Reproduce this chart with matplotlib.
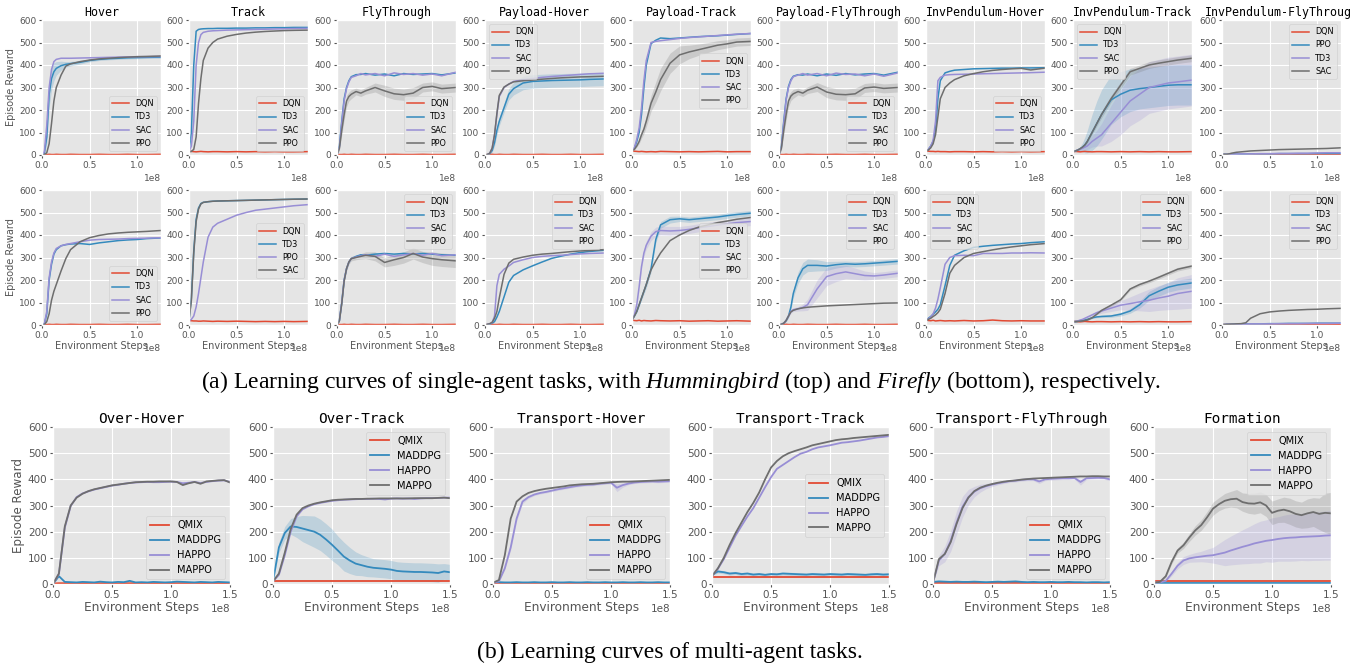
import matplotlib
matplotlib.use("Agg")
import matplotlib.pyplot as plt
from matplotlib.transforms import Bbox

plt.style.use("ggplot")
plt.rcParams["mathtext.fontset"] = "custom"
plt.rcParams["mathtext.rm"] = "Liberation Serif"
plt.rcParams["mathtext.it"] = "Liberation Serif:italic"

# ---------------- data (x in units of 1e8 environment steps) ----------------
X_SINGLE = [0, .025, .05, .075, .1, .125, .15, .2, .25, .3, .4, .5, .6, .7, .8, .9, 1.0, 1.1, 1.25]
X_MULTI = [0, .05, .1, .15, .2, .25, .3, .35, .4, .45, .5, .55, .6, .65, .7, .75, .8, .85,
           .9, .95, 1.0, 1.05, 1.1, 1.15, 1.2, 1.25, 1.3, 1.35, 1.4, 1.45, 1.5]

# --- Hummingbird (top row) ---
H_HOVER_DQN = [2, 2, 2, 3, 2, 2, 3, 2, 2, 3, 2, 2, 3, 2, 2, 3, 2, 2, 3]
H_HOVER_TD3 = [0, 10, 80, 270, 340, 370, 385, 397, 403, 406, 412, 420, 425, 428, 430, 432, 433, 434, 435]
H_HOVER_SAC = [0, 15, 130, 300, 380, 415, 425, 430, 430, 430, 431, 432, 433, 434, 435, 436, 437, 437, 438]
H_HOVER_PPO = [0, 2, 10, 50, 140, 240, 300, 355, 395, 405, 415, 422, 427, 430, 433, 435, 437, 438, 440]
H_HOVER_TD3_SD = [0, 5, 30, 60, 50, 40, 30, 20, 12, 10, 8, 6, 5, 5, 5, 5, 5, 5, 5]

H_TRACK_DQN = [15, 16, 15, 14, 15, 16, 15, 14, 15, 15, 14, 15, 14, 15, 14, 15, 14, 14, 15]
H_TRACK_TD3 = [15, 100, 400, 550, 558, 560, 561, 562, 562, 563, 563, 564, 564, 565, 565, 566, 566, 567, 567]
H_TRACK_SAC = [15, 40, 150, 400, 500, 535, 545, 550, 552, 553, 555, 556, 557, 558, 559, 560, 561, 562, 563]
H_TRACK_PPO = [15, 16, 25, 80, 230, 340, 420, 475, 500, 515, 528, 536, 542, 546, 549, 551, 553, 554, 555]

H_FLY_DQN = [2, 2, 2, 3, 2, 2, 3, 2, 2, 3, 2, 2, 3, 2, 2, 3, 2, 2, 3]
H_FLY_TD3 = [0, 40, 150, 250, 300, 330, 348, 357, 358, 362, 355, 360, 352, 362, 358, 360, 362, 356, 365]
H_FLY_SAC = [0, 35, 140, 240, 295, 325, 345, 352, 362, 356, 362, 352, 365, 358, 362, 355, 360, 352, 368]
H_FLY_PPO = [0, 30, 110, 180, 240, 260, 270, 282, 275, 285, 300, 285, 272, 268, 275, 300, 305, 295, 300]
H_FLY_PPO_SD = [0, 10, 20, 25, 25, 20, 20, 15, 15, 15, 20, 25, 25, 25, 25, 20, 20, 20, 20]

H_PHOVER_DQN = [2, 2, 2, 3, 2, 2, 3, 2, 2, 3, 2, 2, 3, 2, 2, 3, 2, 2, 3]
H_PHOVER_TD3 = [0, 2, 6, 20, 55, 110, 150, 210, 270, 295, 320, 327, 329, 331, 332, 333, 334, 336, 338]
H_PHOVER_SAC = [0, 2, 8, 30, 90, 180, 260, 300, 315, 327, 335, 340, 345, 349, 352, 355, 358, 361, 363]
H_PHOVER_PPO = [0, 2, 8, 30, 90, 185, 265, 302, 315, 325, 330, 333, 337, 340, 343, 345, 347, 348, 350]
H_PHOVER_TD3_SD = [0, 1, 3, 8, 15, 20, 20, 20, 25, 28, 30, 30, 30, 30, 30, 30, 30, 30, 30]

H_PTRACK_DQN = [18, 17, 16, 15, 16, 15, 14, 15, 14, 16, 15, 14, 15, 14, 15, 16, 14, 15, 15]
H_PTRACK_TD3 = [20, 30, 60, 100, 180, 300, 400, 495, 510, 520, 517, 520, 523, 526, 528, 530, 533, 536, 540]
H_PTRACK_SAC = [20, 32, 70, 120, 210, 330, 420, 500, 505, 508, 513, 518, 522, 525, 528, 531, 534, 537, 540]
H_PTRACK_PPO = [20, 25, 40, 60, 90, 115, 150, 230, 280, 335, 408, 445, 458, 468, 478, 488, 494, 502, 505]
H_PTRACK_PPO_SD = [0, 2, 5, 10, 15, 20, 25, 35, 45, 50, 45, 40, 30, 25, 22, 20, 18, 18, 18]

H_PFLY_DQN = [2, 2, 2, 3, 2, 2, 3, 2, 2, 3, 2, 2, 3, 2, 2, 3, 2, 2, 3]
H_PFLY_TD3 = [0, 40, 150, 250, 305, 335, 350, 357, 355, 360, 352, 360, 354, 362, 356, 360, 362, 355, 368]
H_PFLY_SAC = [0, 35, 140, 245, 300, 330, 348, 355, 362, 355, 362, 352, 364, 358, 360, 352, 360, 350, 365]
H_PFLY_PPO = [0, 30, 110, 180, 240, 262, 272, 282, 275, 288, 302, 280, 270, 268, 272, 298, 302, 296, 300]
H_PFLY_PPO_SD = [0, 10, 20, 25, 25, 20, 20, 15, 15, 15, 20, 25, 25, 25, 25, 20, 20, 20, 20]

H_IHOVER_DQN = [18, 17, 16, 16, 15, 16, 15, 15, 14, 15, 15, 14, 15, 14, 15, 14, 15, 14, 15]
H_IHOVER_TD3 = [18, 25, 40, 60, 110, 250, 330, 365, 372, 377, 380, 383, 384, 385, 386, 386, 387, 387, 388]
H_IHOVER_SAC = [18, 25, 40, 65, 150, 330, 345, 355, 357, 358, 359, 360, 361, 362, 363, 364, 365, 366, 368]
H_IHOVER_PPO = [18, 22, 32, 50, 90, 170, 250, 300, 320, 335, 352, 362, 370, 376, 380, 383, 385, 378, 386]

H_ITRACK_DQN = [15, 16, 15, 14, 15, 16, 15, 14, 15, 15, 14, 15, 14, 15, 14, 15, 14, 14, 15]
H_ITRACK_TD3 = [15, 18, 22, 28, 35, 45, 60, 100, 140, 180, 245, 270, 288, 295, 300, 305, 310, 312, 312]
H_ITRACK_SAC = [15, 18, 22, 26, 30, 35, 40, 60, 75, 90, 140, 190, 240, 270, 300, 310, 320, 325, 333]
H_ITRACK_PPO = [15, 18, 22, 28, 35, 45, 60, 100, 140, 180, 250, 310, 370, 385, 400, 408, 415, 422, 430]
H_ITRACK_TD3_SD = [2, 3, 5, 10, 20, 35, 50, 80, 100, 110, 110, 100, 95, 90, 90, 90, 90, 90, 90]
H_ITRACK_SAC_SD = [2, 3, 4, 6, 8, 12, 15, 25, 35, 50, 80, 100, 110, 115, 115, 115, 115, 115, 115]
H_ITRACK_PPO_SD = [1, 2, 3, 4, 5, 6, 8, 10, 12, 15, 15, 15, 15, 15, 15, 15, 15, 15, 15]

H_IFLY_DQN = [2, 2, 2, 3, 2, 2, 3, 2, 2, 3, 2, 2, 3, 2, 2, 3, 2, 2, 3]
H_IFLY_PPO = [3, 3, 3, 3, 3, 4, 4, 4, 4, 5, 5, 5, 6, 6, 6, 6, 7, 7, 7]
H_IFLY_TD3 = [3, 3, 3, 3, 4, 4, 4, 5, 5, 5, 6, 6, 7, 7, 8, 8, 9, 10, 10]
H_IFLY_SAC = [3, 3, 3, 5, 8, 10, 12, 14, 16, 18, 20, 22, 24, 25, 26, 27, 28, 29, 32]

# --- Firefly (second row) ---
F_HOVER_DQN = [2, 2, 2, 3, 2, 2, 3, 2, 2, 3, 2, 2, 3, 2, 2, 3, 2, 2, 3]
F_HOVER_TD3 = [0, 5, 50, 200, 270, 315, 335, 352, 357, 360, 362, 358, 365, 370, 375, 378, 380, 384, 387]
F_HOVER_SAC = [0, 5, 60, 210, 280, 320, 340, 352, 358, 362, 370, 377, 380, 381, 382, 384, 385, 386, 388]
F_HOVER_PPO = [0, 2, 15, 50, 110, 150, 180, 240, 295, 335, 370, 388, 398, 405, 409, 412, 414, 416, 420]

F_TRACK_DQN = [20, 19, 18, 18, 17, 17, 18, 17, 16, 17, 16, 17, 16, 15, 16, 15, 16, 15, 16]
F_TRACK_TD3 = [20, 120, 330, 470, 520, 540, 545, 548, 550, 551, 552, 553, 554, 555, 556, 557, 558, 559, 560]
F_TRACK_PPO = [20, 25, 40, 80, 140, 210, 280, 390, 435, 452, 470, 488, 500, 510, 515, 520, 525, 530, 535]
F_TRACK_SAC = [20, 110, 320, 460, 515, 538, 545, 548, 550, 551, 552, 553, 554, 555, 556, 557, 558, 559, 560]

F_FLY_DQN = [2, 2, 2, 3, 2, 2, 3, 2, 2, 3, 2, 2, 3, 2, 2, 3, 2, 2, 3]
F_FLY_TD3 = [0, 20, 100, 200, 250, 280, 295, 305, 312, 310, 315, 318, 315, 318, 316, 318, 315, 312, 310]
F_FLY_SAC = [0, 20, 100, 200, 250, 280, 295, 302, 308, 312, 305, 315, 305, 312, 318, 310, 318, 308, 312]
F_FLY_PPO = [0, 18, 95, 195, 250, 280, 295, 300, 305, 310, 305, 278, 290, 300, 318, 302, 295, 290, 285]
F_FLY_PPO_SD = [0, 3, 8, 10, 10, 10, 10, 10, 12, 15, 20, 20, 25, 25, 25, 25, 30, 30, 30]

F_PHOVER_DQN = [2, 2, 2, 3, 2, 2, 3, 2, 2, 3, 2, 2, 3, 2, 2, 3, 2, 2, 3]
F_PHOVER_TD3 = [0, 2, 4, 8, 15, 35, 60, 125, 190, 220, 245, 263, 280, 296, 306, 315, 322, 327, 332]
F_PHOVER_SAC = [0, 3, 6, 10, 40, 175, 225, 248, 262, 278, 290, 300, 305, 308, 310, 313, 316, 318, 320]
F_PHOVER_PPO = [0, 3, 6, 12, 30, 60, 120, 225, 275, 292, 302, 310, 315, 318, 322, 326, 329, 331, 335]

F_PTRACK_DQN = [22, 20, 19, 21, 18, 20, 19, 18, 20, 19, 18, 19, 17, 18, 19, 17, 18, 19, 17]
F_PTRACK_TD3 = [22, 40, 60, 90, 120, 150, 180, 250, 380, 445, 468, 472, 468, 472, 476, 480, 486, 491, 497]
F_PTRACK_SAC = [22, 45, 90, 170, 260, 320, 355, 395, 415, 420, 418, 420, 425, 432, 438, 444, 450, 455, 460]
F_PTRACK_PPO = [22, 40, 60, 90, 120, 150, 180, 245, 285, 320, 375, 400, 420, 435, 445, 455, 462, 470, 478]
F_PTRACK_TD3_SD = [2, 3, 5, 8, 10, 12, 15, 15, 15, 15, 15, 12, 12, 12, 12, 12, 12, 12, 12]
F_PTRACK_SAC_SD = [2, 3, 5, 8, 10, 15, 18, 20, 20, 20, 20, 18, 18, 18, 18, 18, 18, 18, 18]

F_PFLY_DQN = [2, 2, 2, 3, 2, 2, 3, 2, 2, 3, 2, 2, 3, 2, 2, 3, 2, 2, 3]
F_PFLY_TD3 = [0, 3, 8, 20, 40, 80, 140, 210, 250, 265, 265, 262, 268, 272, 270, 272, 275, 278, 283]
F_PFLY_SAC = [0, 3, 8, 20, 40, 60, 68, 72, 78, 90, 160, 215, 228, 236, 228, 220, 218, 222, 230]
F_PFLY_PPO = [0, 3, 8, 20, 40, 58, 65, 72, 76, 79, 82, 85, 87, 89, 91, 93, 95, 97, 98]
F_PFLY_TD3_SD = [0, 1, 3, 5, 8, 12, 18, 25, 28, 28, 25, 20, 15, 12, 12, 12, 12, 12, 12]
F_PFLY_SAC_SD = [0, 1, 2, 4, 6, 8, 8, 10, 15, 25, 40, 40, 35, 30, 25, 20, 15, 15, 15]

F_IHOVER_DQN = [22, 20, 19, 21, 18, 19, 20, 18, 19, 18, 20, 18, 19, 22, 19, 18, 19, 18, 18]
F_IHOVER_TD3 = [20, 30, 38, 48, 58, 70, 90, 175, 265, 310, 330, 345, 350, 354, 357, 360, 362, 366, 370]
F_IHOVER_SAC = [20, 28, 35, 50, 75, 115, 165, 270, 300, 308, 310, 308, 318, 318, 318, 320, 320, 321, 320]
F_IHOVER_PPO = [20, 25, 30, 38, 45, 55, 70, 140, 230, 265, 300, 318, 326, 334, 341, 347, 352, 357, 362]

F_ITRACK_DQN = [15, 16, 15, 14, 15, 16, 15, 14, 15, 15, 14, 15, 14, 15, 14, 15, 14, 14, 15]
F_ITRACK_TD3 = [15, 15, 16, 18, 20, 22, 25, 32, 36, 38, 40, 48, 62, 90, 130, 150, 168, 178, 187]
F_ITRACK_SAC = [15, 16, 18, 22, 25, 30, 35, 45, 55, 62, 75, 88, 95, 103, 110, 120, 128, 140, 150]
F_ITRACK_PPO = [15, 15, 16, 17, 18, 20, 22, 32, 48, 65, 88, 112, 160, 180, 195, 212, 230, 248, 262]
F_ITRACK_TD3_SD = [1, 1, 1, 2, 2, 2, 3, 3, 4, 5, 6, 8, 10, 15, 20, 22, 22, 22, 22]
F_ITRACK_SAC_SD = [1, 1, 2, 2, 3, 3, 4, 5, 8, 10, 15, 20, 30, 40, 50, 55, 60, 70, 75]
F_ITRACK_PPO_SD = [1, 1, 1, 1, 2, 2, 2, 3, 3, 4, 5, 6, 6, 7, 7, 8, 8, 8, 8]

F_IFLY_DQN = [2, 2, 2, 3, 2, 2, 3, 2, 2, 3, 2, 2, 3, 2, 2, 3, 2, 2, 3]
F_IFLY_TD3 = [2, 2, 3, 3, 3, 4, 4, 4, 5, 5, 5, 6, 6, 7, 7, 7, 8, 8, 8]
F_IFLY_SAC = [2, 2, 3, 3, 3, 3, 4, 4, 4, 5, 5, 5, 6, 6, 6, 7, 7, 7, 8]
F_IFLY_PPO = [2, 2, 3, 3, 4, 4, 5, 6, 10, 30, 50, 58, 62, 65, 67, 69, 70, 72, 74]

# --- multi-agent ---
OH_QMIX = [2, 3, 3, 3, 2, 3, 3, 2, 3, 3, 3, 2, 3, 3, 3, 2, 3, 3, 3, 2, 3, 3, 3, 2, 3, 3, 3, 2, 3, 3, 3]
OH_MADDPG = [0, 30, 8, 7, 6, 8, 7, 6, 9, 7, 6, 8, 7, 12, 6, 7, 6, 8, 7, 6, 7, 9, 8, 7, 6, 8, 7, 6, 8, 7, 6]
OH_HAPPO = [0, 38, 215, 298, 332, 346, 354, 361, 366, 371, 376, 379, 383, 386, 388, 389, 390, 389, 389, 390,
            391, 390, 385, 387, 390, 386, 390, 393, 395, 396, 390]
OH_MAPPO = [0, 40, 220, 300, 330, 345, 355, 362, 367, 372, 377, 380, 383, 386, 389, 390, 391, 391, 392, 392,
            392, 390, 378, 385, 390, 383, 392, 394, 396, 397, 388]

OT_QMIX = [12, 12, 12, 12, 12, 12, 12, 12, 12, 12, 12, 12, 12, 12, 12, 12, 12, 12, 12, 12, 12, 12, 12, 12,
           12, 12, 12, 12, 12, 12, 12]
OT_MADDPG = [10, 140, 195, 220, 218, 212, 206, 200, 188, 170, 150, 128, 105, 90, 78, 72, 66, 62, 60, 58,
             55, 50, 48, 47, 46, 46, 45, 44, 42, 48, 45]
OT_HAPPO = [10, 35, 110, 200, 258, 285, 297, 305, 310, 314, 318, 320, 322, 323, 324, 325, 325, 326, 325, 323,
            326, 327, 326, 327, 325, 327, 328, 328, 329, 330, 330]
OT_MAPPO = [10, 40, 120, 210, 265, 290, 300, 307, 312, 316, 320, 322, 323, 324, 325, 325, 326, 326, 327, 327,
            327, 327, 327, 327, 328, 328, 328, 328, 329, 330, 328]
OT_MADDPG_SD = [0, 20, 25, 30, 40, 50, 55, 60, 60, 60, 60, 55, 55, 50, 45, 40, 38, 35, 35, 35, 35, 35, 35, 35,
                35, 35, 35, 35, 35, 30, 30]

TH_QMIX = [5, 5, 5, 5, 5, 5, 5, 5, 5, 5, 5, 5, 5, 5, 5, 5, 5, 5, 5, 5, 5, 5, 5, 5, 5, 5, 5, 5, 5, 5, 5]
TH_MADDPG = [6, 7, 6, 6, 7, 6, 6, 7, 6, 6, 7, 6, 6, 7, 6, 6, 7, 6, 6, 7, 6, 6, 7, 6, 6, 7, 6, 6, 7, 6, 6]
TH_HAPPO = [5, 10, 60, 140, 250, 315, 332, 342, 348, 352, 357, 362, 366, 370, 374, 377, 379, 380, 383, 385,
            387, 368, 378, 384, 388, 390, 391, 392, 391, 392, 393]
TH_MAPPO = [5, 15, 110, 250, 315, 335, 348, 355, 360, 364, 367, 370, 373, 377, 379, 381, 382, 383, 385, 387,
            389, 390, 391, 391, 392, 393, 394, 395, 396, 397, 398]
TH_HAPPO_SD = [0, 2, 5, 10, 10, 8, 5, 4, 4, 4, 4, 4, 4, 4, 4, 4, 4, 4, 4, 4, 4, 15, 8, 4, 4, 4, 4, 4, 4, 4, 4]

TT_QMIX = [28, 28, 28, 28, 28, 28, 28, 28, 28, 28, 28, 28, 28, 28, 28, 28, 28, 28, 28, 28, 28, 28, 28, 28,
           28, 28, 28, 28, 28, 28, 28]
TT_MADDPG = [35, 48, 45, 40, 42, 38, 40, 36, 38, 35, 38, 37, 40, 39, 38, 37, 36, 38, 37, 36, 38, 37, 36, 38,
             37, 36, 35, 37, 38, 36, 37]
TT_HAPPO = [30, 58, 95, 140, 185, 222, 258, 290, 330, 370, 408, 440, 455, 470, 485, 498, 505, 515, 522, 526,
            530, 535, 540, 542, 545, 548, 552, 556, 560, 562, 565]
TT_MAPPO = [30, 60, 100, 150, 195, 235, 275, 310, 350, 400, 445, 470, 488, 500, 508, 515, 522, 530, 535, 540,
            545, 550, 553, 555, 558, 560, 562, 564, 566, 568, 570]
TT_MADDPG_SD = [3, 6, 6, 6, 6, 6, 6, 6, 6, 6, 6, 6, 6, 6, 6, 6, 6, 6, 6, 6, 6, 6, 6, 6, 6, 6, 6, 6, 6, 6, 6]

TF_QMIX = [5, 5, 5, 5, 5, 5, 5, 5, 5, 5, 5, 5, 5, 5, 5, 5, 5, 5, 5, 5, 5, 5, 5, 5, 5, 5, 5, 5, 5, 5, 5]
TF_MADDPG = [8, 10, 9, 8, 9, 8, 8, 9, 8, 7, 8, 9, 8, 9, 10, 8, 7, 8, 7, 7, 8, 7, 7, 8, 7, 7, 6, 7, 7, 6, 7]
TF_HAPPO = [5, 90, 115, 165, 235, 295, 332, 353, 366, 374, 380, 385, 389, 393, 395, 398, 400, 400, 392, 400,
            402, 403, 404, 404, 405, 390, 404, 405, 406, 405, 400]
TF_MAPPO = [5, 95, 115, 160, 230, 290, 330, 355, 368, 376, 382, 387, 391, 394, 396, 399, 401, 403, 404, 405,
            406, 407, 408, 409, 410, 411, 411, 412, 412, 411, 411]
TF_HAPPO_SD = [0, 20, 30, 40, 45, 40, 30, 20, 15, 10, 8, 6, 5, 5, 5, 5, 5, 5, 8, 5, 5, 5, 5, 5, 5, 12, 5, 5,
               5, 5, 5]

FM_QMIX = [13, 13, 13, 13, 13, 13, 13, 13, 13, 13, 13, 13, 13, 13, 13, 13, 13, 13, 13, 13, 13, 13, 13, 13,
           13, 13, 13, 13, 13, 13, 13]
FM_MADDPG = [5, 5, 5, 5, 5, 5, 5, 5, 5, 5, 5, 5, 5, 5, 5, 5, 5, 5, 5, 5, 5, 5, 5, 5, 5, 5, 5, 5, 5, 5, 5]
FM_HAPPO = [5, 6, 12, 40, 70, 90, 98, 102, 105, 108, 110, 115, 120, 128, 135, 142, 148, 155, 160, 165,
            168, 172, 175, 177, 178, 180, 181, 182, 183, 185, 186]
FM_MAPPO = [5, 8, 30, 85, 128, 148, 178, 205, 225, 255, 288, 305, 318, 324, 326, 313, 308, 307, 312, 300,
            272, 280, 284, 278, 268, 263, 270, 275, 268, 272, 270]
FM_HAPPO_SD = [0, 1, 3, 8, 12, 15, 15, 18, 20, 25, 30, 40, 50, 55, 60, 65, 70, 75, 80, 80, 85, 85, 88, 90,
               90, 90, 92, 92, 93, 94, 95]
FM_MAPPO_SD = [0, 2, 5, 8, 10, 12, 15, 18, 20, 22, 25, 25, 28, 30, 35, 35, 38, 40, 40, 42, 45, 45, 48, 50,
               50, 50, 55, 55, 60, 75, 80]

# ---------------- panel definitions ----------------
STD4 = ["DQN", "TD3", "SAC", "PPO"]
TOP_ROW = [
    ("Hover", [H_HOVER_DQN, H_HOVER_TD3, H_HOVER_SAC, H_HOVER_PPO], STD4, {1: H_HOVER_TD3_SD}, "lower right"),
    ("Track", [H_TRACK_DQN, H_TRACK_TD3, H_TRACK_SAC, H_TRACK_PPO], STD4, {}, "lower right"),
    ("FlyThrough", [H_FLY_DQN, H_FLY_TD3, H_FLY_SAC, H_FLY_PPO], STD4, {3: H_FLY_PPO_SD}, "lower right"),
    ("Payload-Hover", [H_PHOVER_DQN, H_PHOVER_TD3, H_PHOVER_SAC, H_PHOVER_PPO], STD4, {1: H_PHOVER_TD3_SD}, "upper left"),
    ("Payload-Track", [H_PTRACK_DQN, H_PTRACK_TD3, H_PTRACK_SAC, H_PTRACK_PPO], STD4, {3: H_PTRACK_PPO_SD}, "center right"),
    ("Payload-FlyThrough", [H_PFLY_DQN, H_PFLY_TD3, H_PFLY_SAC, H_PFLY_PPO], STD4, {3: H_PFLY_PPO_SD}, "lower right"),
    ("InvPendulum-Hover", [H_IHOVER_DQN, H_IHOVER_TD3, H_IHOVER_SAC, H_IHOVER_PPO], STD4, {}, "lower right"),
    ("InvPendulum-Track", [H_ITRACK_DQN, H_ITRACK_TD3, H_ITRACK_SAC, H_ITRACK_PPO], STD4,
     {1: H_ITRACK_TD3_SD, 2: H_ITRACK_SAC_SD, 3: H_ITRACK_PPO_SD}, "upper left"),
    ("InvPendulum-FlyThrough", [H_IFLY_DQN, H_IFLY_PPO, H_IFLY_TD3, H_IFLY_SAC], ["DQN", "PPO", "TD3", "SAC"], {}, "upper right"),
]
BOTTOM_ROW = [
    ([F_HOVER_DQN, F_HOVER_TD3, F_HOVER_SAC, F_HOVER_PPO], STD4, {}, "lower right"),
    ([F_TRACK_DQN, F_TRACK_TD3, F_TRACK_PPO, F_TRACK_SAC], ["DQN", "TD3", "PPO", "SAC"], {}, "center right"),
    ([F_FLY_DQN, F_FLY_TD3, F_FLY_SAC, F_FLY_PPO], STD4, {3: F_FLY_PPO_SD}, "upper right"),
    ([F_PHOVER_DQN, F_PHOVER_TD3, F_PHOVER_SAC, F_PHOVER_PPO], STD4, {}, "upper right"),
    ([F_PTRACK_DQN, F_PTRACK_TD3, F_PTRACK_SAC, F_PTRACK_PPO], STD4, {1: F_PTRACK_TD3_SD, 2: F_PTRACK_SAC_SD}, "center right"),
    ([F_PFLY_DQN, F_PFLY_TD3, F_PFLY_SAC, F_PFLY_PPO], STD4, {1: F_PFLY_TD3_SD, 2: F_PFLY_SAC_SD}, "upper right"),
    ([F_IHOVER_DQN, F_IHOVER_TD3, F_IHOVER_SAC, F_IHOVER_PPO], STD4, {}, "upper left"),
    ([F_ITRACK_DQN, F_ITRACK_TD3, F_ITRACK_SAC, F_ITRACK_PPO], STD4,
     {1: F_ITRACK_TD3_SD, 2: F_ITRACK_SAC_SD, 3: F_ITRACK_PPO_SD}, "upper right"),
    ([F_IFLY_DQN, F_IFLY_TD3, F_IFLY_SAC, F_IFLY_PPO], STD4, {}, "upper right"),
]
MA4 = ["QMIX", "MADDPG", "HAPPO", "MAPPO"]
MULTI_ROW = [
    ("Over-Hover", [OH_QMIX, OH_MADDPG, OH_HAPPO, OH_MAPPO], {}, "lower right"),
    ("Over-Track", [OT_QMIX, OT_MADDPG, OT_HAPPO, OT_MAPPO], {1: OT_MADDPG_SD}, "upper right"),
    ("Transport-Hover", [TH_QMIX, TH_MADDPG, TH_HAPPO, TH_MAPPO], {2: TH_HAPPO_SD}, "lower right"),
    ("Transport-Track", [TT_QMIX, TT_MADDPG, TT_HAPPO, TT_MAPPO], {1: TT_MADDPG_SD}, "center right"),
    ("Transport-FlyThrough", [TF_QMIX, TF_MADDPG, TF_HAPPO, TF_MAPPO], {2: TF_HAPPO_SD}, "lower right"),
    ("Formation", [FM_QMIX, FM_MADDPG, FM_HAPPO, FM_MAPPO], {2: FM_HAPPO_SD, 3: FM_MAPPO_SD}, "upper right"),
]
COLORS = ["#E24A33", "#348ABD", "#988ED5", "#6E6E6E"]

# ---------------- drawing ----------------
W, H = 1364, 666
fig = plt.figure(figsize=(W / 100, H / 100), dpi=100)
fig.patch.set_facecolor("white")


def make_ax(l, t, w, h):
    return fig.add_axes([l / W, 1 - (t + h) / H, w / W, h / H])


def draw(ax, xs, series, labels, bands, loc, xmax, xticks, small):
    x = [v * 1e8 for v in xs]
    for i, (ys, lab) in enumerate(zip(series, labels)):
        if i in bands:
            lo = [a - b for a, b in zip(ys, bands[i])]
            hi = [a + b for a, b in zip(ys, bands[i])]
            ax.fill_between(x, lo, hi, color=COLORS[i], alpha=0.22, lw=0)
        ax.plot(x, ys, color=COLORS[i], lw=1.1 if small else 1.3, label=lab)
    ax.set_xlim(0, xmax * 1e8)
    ax.set_ylim(0, 600)
    ax.set_yticks([0, 100, 200, 300, 400, 500, 600])
    ax.set_xticks([v * 1e8 for v in xticks])
    fs = 6.5 if small else 7.5
    ax.tick_params(labelsize=fs, length=2.5, pad=1.5, colors="#555555")
    ax.xaxis.get_offset_text().set_fontsize(fs)
    ax.xaxis.get_offset_text().set_color("#555555")
    kw = {}
    if loc == "center right" and small:
        kw = dict(bbox_to_anchor=(1, 0.55))
    ax.legend(loc=loc, fontsize=5.9 if small else 7.1, **kw)


clip = Bbox.from_extents(0, 0, 1350, H)
TOP_LEFTS = [42, 189, 337, 485, 632, 779, 926, 1073, 1222]
for j, (title, series, labels, bands, loc) in enumerate(TOP_ROW):
    ax = make_ax(TOP_LEFTS[j], 20, 119, 135)
    draw(ax, X_SINGLE, series, labels, bands, loc, 1.25, [0, 0.5, 1.0], True)
    t = ax.set_title(title, family="DejaVu Sans Mono", fontsize=8.4, pad=3)
    t.set_clip_box(clip)
    t.set_clip_on(True)
    if j == 0:
        ax.set_ylabel("Episode Reward", fontsize=7.0, color="#555555", labelpad=2)

for j, (series, labels, bands, loc) in enumerate(BOTTOM_ROW):
    ax = make_ax(TOP_LEFTS[j], 190, 119, 135)
    draw(ax, X_SINGLE, series, labels, bands, loc, 1.25, [0, 0.5, 1.0], True)
    ax.set_xlabel("Environment Steps", fontsize=7.0, color="#555555", labelpad=1)
    if j == 0:
        ax.set_ylabel("Episode Reward", fontsize=7.0, color="#555555", labelpad=2)

MULTI_LEFTS = [53, 273, 493, 712, 933, 1154]
for j, (title, series, bands, loc) in enumerate(MULTI_ROW):
    ax = make_ax(MULTI_LEFTS[j], 427, 177, 157)
    draw(ax, X_MULTI, series, MA4, bands, loc, 1.5, [0, 0.5, 1.0, 1.5], False)
    ax.set_title(title, family="DejaVu Sans Mono", fontsize=10.4, pad=3)
    ax.set_xlabel("Environment Steps", fontsize=8.7, color="#555555", labelpad=1)
    if j == 0:
        ax.set_ylabel("Episode Reward", fontsize=8.6, color="#555555", labelpad=2)

fig.text(681 / W, 1 - 382 / H,
         r"(a) Learning curves of single-agent tasks, with $\mathit{Hummingbird}$ (top) and "
         r"$\mathit{Firefly}$ (bottom), respectively.",
         ha="center", va="center", family="Liberation Serif", fontsize=17)
fig.text(670 / W, 1 - 652 / H, "(b) Learning curves of multi-agent tasks.",
         ha="center", va="center", family="Liberation Serif", fontsize=17)

fig.savefig("out.png", dpi=100, facecolor="white")
